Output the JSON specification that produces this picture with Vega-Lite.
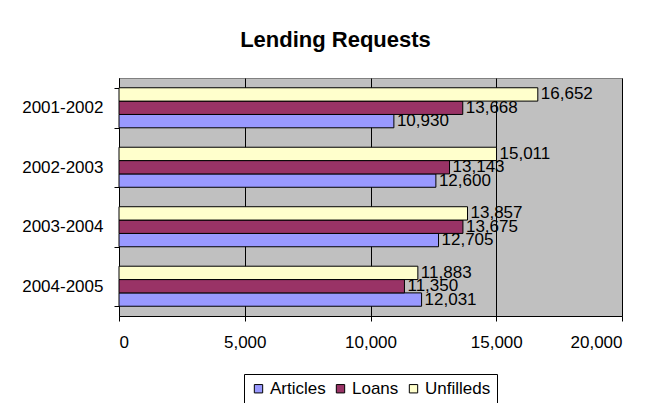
{
  "$schema": "https://vega.github.io/schema/vega-lite/v6.json",
  "width": 503,
  "height": 238,
  "autosize": {"type": "none"},
  "padding": {"left": 119, "top": 78, "right": 32, "bottom": 87},
  "background": "white",
  "title": {"text": "Lending Requests", "font": "Liberation Sans", "fontSize": 22, "fontWeight": "bold", "color": "black", "offset": 17, "dx": -35},
  "data": {"values": [
    {"year": "2001-2002", "series": "Articles", "value": 10930},
    {"year": "2001-2002", "series": "Loans", "value": 13668},
    {"year": "2001-2002", "series": "Unfilleds", "value": 16652},
    {"year": "2002-2003", "series": "Articles", "value": 12600},
    {"year": "2002-2003", "series": "Loans", "value": 13143},
    {"year": "2002-2003", "series": "Unfilleds", "value": 15011},
    {"year": "2003-2004", "series": "Articles", "value": 12705},
    {"year": "2003-2004", "series": "Loans", "value": 13675},
    {"year": "2003-2004", "series": "Unfilleds", "value": 13857},
    {"year": "2004-2005", "series": "Articles", "value": 12031},
    {"year": "2004-2005", "series": "Loans", "value": 11350},
    {"year": "2004-2005", "series": "Unfilleds", "value": 11883}
  ]},
  "encoding": {
    "y": {"field": "year", "type": "nominal", "scale": {"paddingInner": 0.327, "paddingOuter": 0.164},
      "axis": {"title": null, "labelFont": "Liberation Sans", "labelFontSize": 17, "labelColor": "black", "domainColor": "black", "tickColor": "black", "tickSize": 5, "tickBand": "extent", "labelPadding": 11, "grid": false}},
    "yOffset": {"field": "series", "type": "nominal", "sort": ["Unfilleds", "Loans", "Articles"], "scale": {"paddingInner": 0, "paddingOuter": 0}},
    "x": {"field": "value", "type": "quantitative", "scale": {"domain": [0, 20000], "nice": false},
      "axis": {"title": null, "values": [0, 5000, 10000, 15000, 20000], "format": ",.0f", "grid": true, "gridColor": "black", "gridOpacity": 1, "gridWidth": 1, "tickSize": 5, "tickColor": "black", "domainColor": "black", "labelPadding": 13, "labelFont": "Liberation Sans", "labelFontSize": 17, "labelColor": "black"}}
  },
  "layer": [
    {
      "mark": {"type": "bar", "stroke": "black", "strokeWidth": 1},
      "encoding": {
        "color": {"field": "series", "type": "nominal",
          "scale": {"domain": ["Articles", "Loans", "Unfilleds"], "range": ["#9999FF", "#993366", "#FFFFCC"]},
          "legend": {"title": null, "orient": "none", "legendX": 125, "legendY": 296, "direction": "horizontal", "strokeColor": "black", "fillColor": "white", "padding": 6, "symbolType": "square", "symbolSize": 70, "symbolStrokeColor": "black", "symbolStrokeWidth": 1, "labelFont": "Liberation Sans", "labelFontSize": 17, "labelColor": "black", "columnPadding": 6, "labelOffset": 3}}
      }
    },
    {
      "mark": {"type": "text", "align": "left", "baseline": "middle", "dx": 3, "font": "Liberation Sans", "fontSize": 17, "color": "black"},
      "encoding": {"text": {"field": "value", "type": "quantitative", "format": ","}}
    }
  ],
  "config": {"view": {"fill": "#C0C0C0", "stroke": "#808080"}}
}
